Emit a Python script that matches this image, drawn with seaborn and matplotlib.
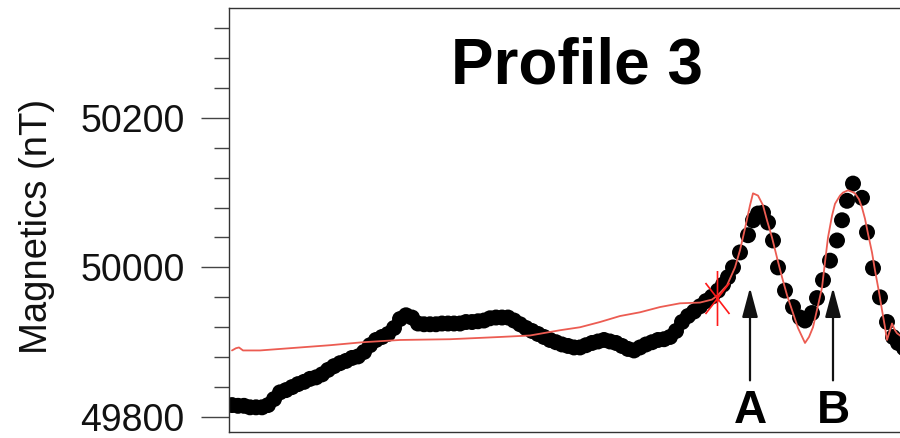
import matplotlib
matplotlib.use("Agg")
import matplotlib.pyplot as plt
from matplotlib.path import Path
from matplotlib.ticker import MultipleLocator
import pandas as pd
import seaborn as sns

# Observed total-field magnetics along the profile (distance in m, field in nT)
obs_distance = [
    3, 9, 15, 21, 27, 33, 39, 45, 51, 57, 63, 69, 75, 81, 87, 93, 99, 105,
    111, 117, 123, 129, 135, 141, 147, 153, 159, 165, 171, 177, 183, 189,
    195, 201, 207, 213, 219, 225, 231, 237, 243, 249, 255, 261, 267, 273,
    279, 285, 291, 297, 303, 309, 315, 321, 327, 333, 339, 345, 351, 357,
    363, 369, 375, 381, 387, 393, 399, 405, 411, 417, 423, 429, 435, 441,
    447, 453, 459, 465, 471, 477, 483, 489, 494,
    499, 504, 511, 519, 524, 529, 534, 539, 544, 549, 556, 564, 571, 576,
    583, 588, 594, 601, 608, 613, 618, 624, 633, 638, 644, 651, 658, 664,
    669, 675, 681,
]
obs_field = [
    49816, 49815, 49815, 49813, 49813, 49813, 49816, 49824, 49833, 49836,
    49840, 49844, 49847, 49851, 49853, 49857, 49863, 49868, 49872, 49875,
    49879, 49881, 49887, 49896, 49903, 49907, 49911, 49919, 49931, 49936,
    49933, 49925, 49924, 49924, 49924, 49925, 49925, 49925, 49925, 49927,
    49927, 49928, 49929, 49932, 49933, 49933, 49933, 49929, 49924, 49919,
    49915, 49911, 49907, 49903, 49900, 49897, 49895, 49893, 49893, 49896,
    49899, 49901, 49903, 49901, 49899, 49895, 49891, 49889, 49893, 49897,
    49900, 49903, 49904, 49907, 49915, 49927, 49935, 49941, 49948, 49955,
    49961, 49969, 49977,
    49987, 50000, 50020, 50043, 50063, 50072, 50073, 50060, 50036, 50000,
    49969, 49947, 49933, 49929, 49939, 49959, 49983, 50009, 50036, 50063,
    50089, 50112, 50093, 50047, 49999, 49960, 49927, 49907, 49899, 49892,
    49889,
]

# Forward-model response
model_distance = [
    3, 7, 10, 14, 31, 61, 101, 134, 171, 221, 271, 301, 331, 351, 371, 391,
    411, 431, 451, 471, 483, 489, 498, 506, 511, 516, 521, 524, 529, 534,
    538, 543, 548, 553, 558, 563, 569, 576, 580, 584, 589, 593, 596, 599,
    603, 606, 611, 614, 619, 623, 626, 630, 633, 636, 639, 643, 646, 650,
    653, 656, 658, 661, 663, 666, 668, 671, 676,
]
model_field = [
    49889, 49892, 49893, 49889, 49889, 49892, 49896, 49900, 49903, 49904,
    49907, 49909, 49916, 49920, 49927, 49935, 49940, 49947, 49952, 49953,
    49957, 49963, 49976, 50000, 50023, 50052, 50083, 50099, 50096, 50083,
    50063, 50040, 50013, 49987, 49963, 49943, 49919, 49899, 49907, 49920,
    49949, 49973, 50007, 50040, 50069, 50085, 50096, 50100, 50103, 50101,
    50099, 50091, 50080, 50065, 50045, 50020, 49996, 49967, 49943, 49920,
    49903, 49916, 49925, 49916, 49912, 49909, 49903,
]

# Model tie point
tie_distance = [488]
tie_field = [49959]

# Anomaly annotations
anomaly_labels = ["A", "B"]
anomaly_distance = [521, 604]

sns.set_style("ticks")
plt.rcParams["font.family"] = ["Liberation Sans", "DejaVu Sans"]

obs = pd.DataFrame({"distance": obs_distance, "field": obs_field})
model = pd.DataFrame({"distance": model_distance, "field": model_field})

fig = plt.figure(figsize=(9, 4.38), dpi=100)
ax = fig.add_axes([229 / 900, 6 / 438, 700 / 900, 424 / 438])

sns.scatterplot(data=obs, x="distance", y="field", ax=ax, color="black",
                s=132, linewidth=0, edgecolor="none", zorder=2, legend=False)
sns.lineplot(data=model, x="distance", y="field", ax=ax, sort=False,
             estimator=None, color="#ec5c52", linewidth=1.3, zorder=3)

# six-armed asterisk marking the tie point
star = Path(
    [(0, -27.5), (0, 27.5), (-12, 15.5), (12, -15.5), (-12, -15.5), (12, 15.5)],
    [Path.MOVETO, Path.LINETO, Path.MOVETO, Path.LINETO, Path.MOVETO, Path.LINETO],
)
ax.plot(tie_distance, tie_field, linestyle="none", marker=star,
        markersize=39.6, markeredgecolor="#ff1a1a", markerfacecolor="none",
        markeredgewidth=1.2, zorder=4)

for lab, xd in zip(anomaly_labels, anomaly_distance):
    ax.annotate("", xy=(xd, 49973), xytext=(xd, 49849),
                arrowprops=dict(arrowstyle="-|>,head_length=0.9,head_width=0.24",
                                mutation_scale=20, color="#111111", lw=1.6,
                                shrinkA=0, shrinkB=0))
    ax.text(xd, 49792, lab, ha="center", va="baseline", fontsize=33,
            fontweight="bold", color="black")

ax.text(0.4964, 0.823, "Profile 3", transform=ax.transAxes, ha="center",
        va="baseline", fontsize=46, fontweight="bold", color="black")

ax.set_xlim(0, 700)
ax.set_ylim(49780, 50346.7)
ax.yaxis.set_major_locator(MultipleLocator(200))
ax.yaxis.set_minor_locator(MultipleLocator(40))
ax.set_xticks([])
ax.tick_params(axis="y", which="major", length=20, width=1.0, color="#444444",
               labelsize=27, pad=12, labelcolor="#111111")
ax.tick_params(axis="y", which="minor", length=10.8, width=1.0, color="#444444")
ax.set_xlabel("")
ax.set_ylabel("Magnetics (nT)", fontsize=27.5, color="#111111")
ax.yaxis.set_label_coords((55 - 229) / 700, (432 - 226) / 424)

for side, sp in ax.spines.items():
    sp.set_color("#333333")
    sp.set_linewidth(1.0)

fig.savefig("out.png", dpi=100)
